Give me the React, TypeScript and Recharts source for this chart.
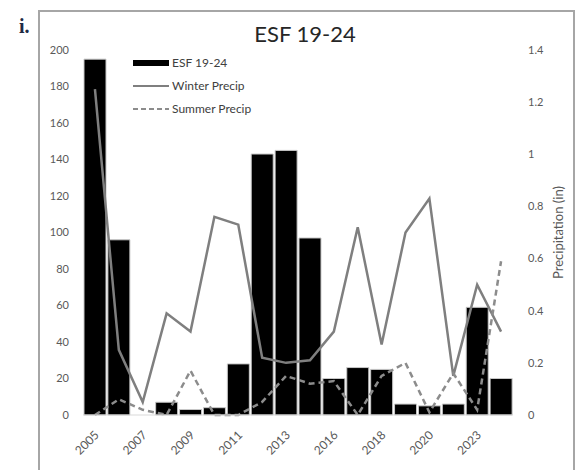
import React from 'react';
import { ComposedChart, Bar, Line, XAxis, YAxis, Legend } from 'recharts';

const years = ['2005', '2006', '2007', '2008', '2009', '2010', '2011', '2012', '2013', '2014', '2016', '2017', '2018', '2019', '2020', '2021', '2023', '2024'];
const esf = [195, 96, 0, 7, 3, 4, 28, 143, 145, 97, 20, 26, 25, 6, 5, 6, 59, 20];
const winterPrecip = [1.25, 0.25, 0.05, 0.39, 0.32, 0.76, 0.73, 0.22, 0.2, 0.21, 0.32, 0.72, 0.27, 0.7, 0.83, 0.15, 0.5, 0.32];
const summerPrecip = [0, 0.06, 0.02, 0, 0.17, 0, 0, 0.05, 0.15, 0.12, 0.13, 0, 0.15, 0.2, 0.01, 0.16, 0.02, 0.59];
const leftTicks = [0, 20, 40, 60, 80, 100, 120, 140, 160, 180, 200];
const rightTicks = [0, 0.2, 0.4, 0.6, 0.8, 1, 1.2, 1.4];

// years on the axis skip a couple, keep them as given
const data = years.map((year, i) => ({
  year,
  esf: esf[i],
  winter: winterPrecip[i],
  summer: summerPrecip[i],
}));

const FONT = 'Lato, "Open Sans", sans-serif';
const AXIS_TEXT = '#595959';

function YearTick({ x, y, payload }: any) {
  return (
    <g transform={`translate(${x + 2},${y + 12})`}>
      <text textAnchor="end" transform="rotate(-45)" fontSize={12} fill={AXIS_TEXT} fontFamily={FONT} dy={4}>
        {payload.value}
      </text>
    </g>
  );
}

function LegendBox() {
  const rows = [
    { name: 'ESF 19-24', kind: 'bar' },
    { name: 'Winter Precip', kind: 'solid' },
    { name: 'Summer Precip', kind: 'dash' },
  ];
  return (
    <div style={{ fontFamily: FONT, fontSize: 12, color: '#404040' }}>
      {rows.map(r => (
        <div key={r.name} style={{ display: 'flex', alignItems: 'center', height: 23 }}>
          <svg width={36} height={10} style={{ marginRight: 3 }}>
            {r.kind === 'bar' && <rect x={0} y={2} width={36} height={6} fill="#000" />}
            {r.kind === 'solid' && <line x1={0} y1={5} x2={36} y2={5} stroke="#7f7f7f" strokeWidth={2} />}
            {r.kind === 'dash' && <line x1={0} y1={5} x2={36} y2={5} stroke="#8c8c8c" strokeWidth={2} strokeDasharray="5 3" />}
          </svg>
          <span>{r.name}</span>
        </div>
      ))}
    </div>
  );
}

export default function App() {
  return (
    <div style={{ position: 'absolute', left: 0, top: 0, width: 580, height: 470, overflow: 'hidden', background: '#fff' }}>
      <div style={{ position: 'absolute', left: 38, top: 10, width: 533, height: 470, border: '2px solid #a6a6a6', borderBottom: 'none' }} />
      <div style={{ position: 'absolute', left: 19, top: 15, fontFamily: '"Liberation Serif", serif', fontWeight: 'bold', fontSize: 20, color: '#1f2a44' }}>i.</div>
      <div style={{ position: 'absolute', left: 0, width: 610, top: 20, textAlign: 'center', fontFamily: FONT, fontSize: 22, color: '#262626' }}>ESF 19-24</div>
      <ComposedChart width={580} height={470} data={data} margin={{ top: 50, right: 0, left: 0, bottom: 0 }} barCategoryGap={1} style={{ position: 'absolute', left: 0, top: 0 }}>
        <XAxis dataKey="year" height={55} interval={1} tick={<YearTick />} tickLine={false} axisLine={{ stroke: '#d9d9d9' }} tickMargin={0} />
        <YAxis yAxisId="left" width={83} domain={[0, 200]} ticks={leftTicks} axisLine={false} tickLine={false} tickSize={0} tickMargin={14}
          tick={{ fontSize: 11, fill: AXIS_TEXT, fontFamily: FONT }} />
        <YAxis yAxisId="right" orientation="right" width={67} domain={[0, 1.4]} ticks={rightTicks} axisLine={false} tickLine={false} tickSize={0} tickMargin={15}
          tick={{ fontSize: 11, fill: AXIS_TEXT, fontFamily: FONT, textAnchor: 'start' }}
          label={{ value: 'Precipitation (in)', angle: -90, position: 'center', dx: 12, style: { fontSize: 13, fill: AXIS_TEXT, fontFamily: FONT } }} />
        <Legend layout="vertical" align="center" verticalAlign="middle" content={<LegendBox />}
          wrapperStyle={{ position: 'absolute', left: 133, top: 51, width: 160 }} />
        <Bar yAxisId="left" dataKey="esf" name="ESF 19-24" fill="#000" stroke="#c8c8c8" strokeWidth={1} isAnimationActive={false} />
        <Line yAxisId="right" dataKey="winter" name="Winter Precip" type="linear" stroke="#7f7f7f" strokeWidth={2.5} dot={false} isAnimationActive={false} />
        <Line yAxisId="right" dataKey="summer" name="Summer Precip" type="linear" stroke="#8c8c8c" strokeWidth={2.5} strokeDasharray="6 4" dot={false} isAnimationActive={false} />
      </ComposedChart>
    </div>
  );
}
